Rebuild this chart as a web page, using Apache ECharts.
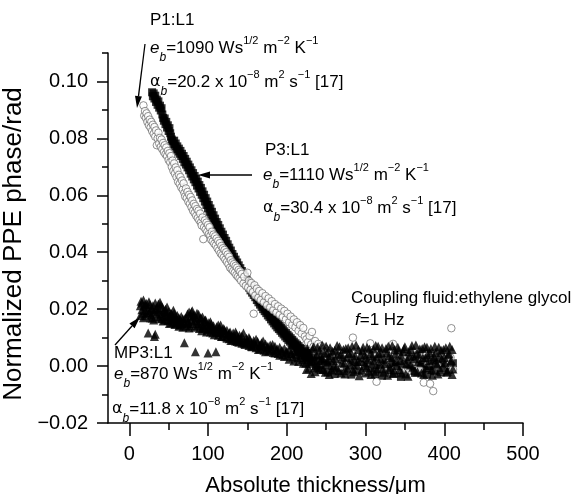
<!DOCTYPE html>
<html>
<head>
<meta charset="utf-8">
<script src="https://cdn.jsdelivr.net/npm/echarts@6/dist/echarts.min.js"></script>
<style>
  html, body { margin: 0; padding: 0; background: #fff; }
  #chart { width: 584px; height: 494px; }
</style>
</head>
<body>
<div id="chart"></div>
<script>
// P3:L1, filled squares
const p3Squares = [
  [29,.0962],[30,.0948],[31,.0958],[32,.0940],[33,.0950],[34,.0928],[35,.0936],[36,.0918],[37,.0930],[38,.0908],[39,.0915],[40,.0898],[41,.0906],
  [42,.0884],[43,.0872],[44,.0862],[45,.0870],[46,.0850],[47,.0858],[48,.0838],[49,.0846],[50,.0826],[51,.0836],[52,.0818],[53,.0806],[54,.0796],
  [55,.0790],[56,.0780],[57,.0792],[58,.0772],[59,.0782],[60,.0762],[61,.0772],[62,.0754],[63,.0764],[64,.0746],[65,.0756],[66,.0738],[67,.0746],
  [68,.0728],[69,.0738],[70,.0716],[71,.0728],[72,.0708],[73,.0718],[74,.0698],[75,.0708],[76,.0688],[77,.0698],[78,.0676],[79,.0688],[80,.0666],
  [81,.0678],[82,.0656],[83,.0668],[84,.0646],[85,.0658],[86,.0634],[87,.0648],[88,.0624],[89,.0636],[90,.0612],[91,.0626],[92,.0602],[93,.0614],
  [94,.0590],[95,.0602],[96,.0578],[97,.0590],[98,.0566],[99,.0578],[100,.0554],[101,.0566],[102,.0542],[103,.0554],[104,.0530],[105,.0542],
  [106,.0518],[107,.0530],[108,.0506],[109,.0518],[110,.0496],[111,.0506],[112,.0484],[113,.0496],[114,.0472],[115,.0484],[116,.0462],[117,.0472],
  [118,.0450],[119,.0462],[120,.0440],[121,.0450],[122,.0428],[123,.0440],[124,.0416],[125,.0428],[126,.0406],[127,.0416],[128,.0394],[129,.0406],
  [130,.0384],[131,.0394],[132,.0372],[133,.0384],[134,.0362],[135,.0374],[136,.0352],[137,.0364],[138,.0342],[139,.0354],[140,.0334],[141,.0344],
  [142,.0322],[143,.0334],[144,.0312],[145,.0324],[146,.0302],[147,.0314],[148,.0292],[149,.0304],[150,.0284],[151,.0294],[152,.0276],[153,.0286],
  [154,.0266],[155,.0278],[156,.0258],[157,.0268],[158,.0250],[159,.0260],[160,.0242],[161,.0252],[162,.0232],[163,.0244],[164,.0224],[165,.0236],
  [166,.0216],[167,.0228],[168,.0208],[169,.0220],[170,.0200],[171,.0212],[172,.0193],[173,.0204],[174,.0186],[175,.0196],[176,.0178],[177,.0190],
  [178,.0172],[179,.0182],[180,.0164],[181,.0176],[182,.0157],[183,.0168],[184,.0150],[185,.0162],[186,.0143],[187,.0155],[188,.0136],[189,.0148],
  [190,.0130],[191,.0141],[192,.0124],[193,.0135],[194,.0117],[195,.0129],[196,.0111],[197,.0122],[198,.0104],[199,.0116],[200,.0098],[201,.0110],
  [202,.0092],[203,.0104],[204,.0086],[205,.0098],[206,.0080],[207,.0092],[208,.0075],[209,.0086],[210,.0070],[211,.0080],[212,.0064],[213,.0075],
  [214,.0058],[215,.0070],[216,.0054],[217,.0064],[218,.0049],[219,.0060],[220,.0045],[222,.0052],[223,.0038],[225,.0046],[226,.0032],[228,.0040],
  [228,.0022],[231,.0008],[234,.0030],[237,-.0006],[240,.0018],[243,-.0014],[246,.0026],[249,.0004],[252,-.0022],[255,.0020],[258,.0000],[261,-.0028],
  [264,.0016],[267,-.0004],[270,.0028],[273,-.0018],[276,.0010],[279,-.0006],[282,-.0030],[285,.0014],[288,.0002],[291,-.0016],[294,.0024],[297,.0006],
  [300,-.0026],[303,.0010],[306,-.0008],[309,.0020],[312,-.0020],[315,.0004],[318,.0016],[321,-.0034],[324,.0002],[327,.0018],[330,-.0014],[333,.0008],
  [336,-.0026],[339,.0014],[342,-.0002],[345,-.0038],[348,.0006],[351,.0022],[354,-.0016],[357,.0002],[360,.0016],[363,-.0024],[366,.0004],[369,.0020],
  [372,-.0012],[375,.0008],[378,-.0030],[381,.0000],[384,.0018],[387,-.0018],[390,.0006],[393,.0024],[396,-.0022],[399,.0002],[402,.0014],[405,-.0014],
  [408,.0000],[411,.0010]
];

// P1:L1, open circles
const p1Circles = [
  [18,.0916],[19,.0880],[20,.0896],[21,.0872],[22,.0888],[23,.0858],[24,.0878],[25,.0846],[26,.0866],[27,.0838],[28,.0858],[29,.0826],[30,.0848],
  [31,.0816],[32,.0840],[33,.0806],[34,.0828],[35,.0776],[36,.0800],[37,.0820],[38,.0782],[39,.0802],[40,.0770],[41,.0796],[42,.0762],[43,.0784],
  [44,.0752],[45,.0776],[46,.0744],[47,.0768],[48,.0738],[49,.0756],[50,.0724],[51,.0748],[52,.0716],[53,.0738],[54,.0700],[55,.0722],[56,.0686],
  [57,.0712],[58,.0676],[59,.0698],[60,.0664],[61,.0688],[62,.0648],[63,.0672],[64,.0640],[65,.0664],[66,.0628],[67,.0652],[68,.0620],[69,.0642],
  [70,.0608],[71,.0596],[72,.0624],[73,.0590],[74,.0612],[75,.0578],[76,.0602],[77,.0570],[78,.0594],[79,.0558],[80,.0582],[81,.0546],[82,.0570],
  [83,.0538],[84,.0562],[85,.0528],[86,.0552],[87,.0520],[88,.0546],[89,.0512],[90,.0536],[91,.0504],[92,.0494],[93,.0522],[94,.0446],[95,.0488],
  [96,.0512],[97,.0480],[98,.0504],[99,.0472],[100,.0496],[101,.0464],[102,.0488],[103,.0458],[104,.0444],[105,.0472],[106,.0438],[107,.0462],
  [108,.0430],[109,.0456],[110,.0424],[111,.0448],[112,.0414],[113,.0440],[114,.0406],[115,.0432],[116,.0396],[117,.0422],[118,.0390],[119,.0414],
  [120,.0382],[121,.0408],[122,.0374],[123,.0400],[124,.0366],[125,.0392],[126,.0358],[127,.0384],[128,.0346],[129,.0372],[130,.0340],[131,.0364],
  [132,.0334],[133,.0358],[134,.0328],[135,.0352],[136,.0320],[137,.0346],[138,.0314],[139,.0338],[140,.0308],[141,.0332],[142,.0300],[143,.0324],
  [145,.0290],[146,.0314],[148,.0282],[150,.0328],[151,.0276],[152,.0300],[154,.0268],[155,.0292],[157,.0260],[158,.0184],[159,.0284],[160,.0248],
  [162,.0272],[164,.0240],[165,.0264],[167,.0232],[169,.0256],[171,.0224],[173,.0246],[175,.0214],[177,.0238],[179,.0206],[181,.0228],[183,.0196],
  [185,.0218],[187,.0188],[189,.0210],[191,.0180],[193,.0202],[195,.0172],[197,.0194],[199,.0164],[201,.0184],[203,.0154],[205,.0174],[207,.0144],
  [209,.0164],[211,.0136],[213,.0154],[215,.0124],[217,.0144],[219,.0114],[221,.0134],[223,.0104],[225,.0094],[227,.0084],[229,.0106],[231,.0076],
  [232,.0120],[234,.0068],[236,.0088],[238,.0058],[240,.0078],[242,.0050],[244,.0070],[246,.0042],[248,.0062],[250,.0036],[252,.0054],[255,.0028],
  [258,.0042],[261,.0012],[264,.0036],[267,-.0004],[270,.0028],[273,.0048],[276,.0006],[279,.0030],[282,-.0012],[284,.0100],[287,.0020],[290,.0044],
  [293,.0002],[296,.0034],[299,-.0016],[302,.0026],[306,.0080],[308,.0010],[311,.0040],[314,-.0055],[317,.0018],[320,.0046],[323,-.0008],[326,.0030],
  [329,.0012],[332,.0050],[335,.0078],[338,-.0014],[341,.0024],[344,.0040],[347,.0004],[350,.0034],[353,-.0020],[356,.0020],[359,.0048],[362,.0008],
  [365,.0032],[368,-.0010],[371,.0026],[374,-.0058],[377,.0042],[380,.0010],[382,-.0062],[384,.0030],[386,-.0088],[388,.0044],[391,.0002],[394,.0036],
  [397,-.0016],[400,.0024],[403,.0050],[406,.0006],[408,.0030],[409,.0133],[411,-.0012]
];

// MP3:L1, filled triangles
const mp3Triangles = [
  [14,.0212],[15,.0228],[16,.0198],[17,.0186],[18,.0232],[19,.0210],[20,.0194],[21,.0176],[22,.0220],[23,.0204],[24,.0116],[25,.0188],[26,.0216],
  [27,.0196],[28,.0180],[29,.0168],[30,.0212],[31,.0192],[32,.0104],[33,.0112],[34,.0202],[35,.0186],[36,.0174],[37,.0218],[38,.0196],[39,.0224],
  [40,.0182],[41,.0166],[42,.0206],[43,.0190],[44,.0176],[45,.0162],[46,.0200],[47,.0186],[48,.0172],
  [49,.0160],[50,.0192],[51,.0176],[52,.0164],[53,.0152],[54,.0182],[55,.0168],[56,.0156],[57,.0186],[58,.0172],[59,.0150],[60,.0166],[61,.0178],
  [62,.0154],[63,.0170],[64,.0144],[65,.0162],[66,.0174],[67,.0148],[68,.0166],[69,.0156],[70,.0082],[71,.0152],[72,.0140],
  [73,.0168],[74,.0184],[75,.0156],[76,.0190],[77,.0142],[78,.0176],[79,.0162],[80,.0194],[81,.0150],[82,.0180],[83,.0136],[84,.0050],[85,.0170],
  [86,.0158],[87,.0142],[88,.0182],[89,.0132],[90,.0166],[91,.0150],[92,.0124],[93,.0172],[94,.0140],[95,.0156],
  [96,.0134],[97,.0162],[98,.0144],[99,.0128],[100,.0046],[101,.0152],[102,.0138],[103,.0120],[104,.0148],[105,.0132],[106,.0116],[107,.0142],
  [108,.0126],[110,.0050],[111,.0138],[112,.0120],[113,.0108],[114,.0134],[115,.0118],[116,.0144],[117,.0104],[118,.0128],[119,.0114],[120,.0132],
  [122,.0118],[123,.0102],[124,.0126],[126,.0110],[127,.0096],[128,.0120],[130,.0106],[131,.0092],[132,.0116],[134,.0100],[135,.0088],[136,.0112],
  [138,.0096],[139,.0084],[140,.0108],[142,.0092],[143,.0080],[145,.0116],[146,.0090],[147,.0076],[149,.0098],[150,.0084],[152,.0072],[153,.0094],
  [155,.0080],[156,.0068],[158,.0090],[160,.0076],
  [161,.0064],[163,.0086],[165,.0072],[166,.0060],[168,.0082],[170,.0068],[171,.0056],[173,.0078],[175,.0064],[177,.0052],[179,.0074],[181,.0060],
  [183,.0048],[185,.0070],[187,.0056],[189,.0044],[191,.0066],[193,.0052],[195,.0040],[197,.0062],[199,.0048],[201,.0036],[203,.0058],[205,.0044],
  [207,.0074],[208,.0032],[210,.0054],[212,.0040],[214,.0028],[216,.0050],[218,.0036],[220,.0022],
  [14,.0178],[16,.0222],[18,.0170],[20,.0216],[22,.0186],[25,.0226],[27,.0170],[29,.0200],[31,.0162],[33,.0222],[35,.0200],[38,.0168],[40,.0214],
  [43,.0158],[45,.0194],[48,.0208],[51,.0150],[53,.0186],[56,.0196],[58,.0146],[61,.0160],[63,.0140],[66,.0152],[68,.0136],[71,.0168],[74,.0150],
  [76,.0134],[79,.0190],[81,.0172],[83,.0158],[86,.0186],[88,.0148],[91,.0170],[93,.0134],[96,.0162],[98,.0120],[101,.0130],[103,.0156],[106,.0134],
  [108,.0110],[111,.0122],[113,.0144],[116,.0118],[118,.0104],[121,.0126],[124,.0098],[127,.0116],[129,.0090],[132,.0104],[135,.0120],[137,.0086],
  [140,.0094],[143,.0106],[146,.0080],[149,.0088],[152,.0100],[155,.0070],[158,.0080],[161,.0094],[164,.0058],[167,.0074],[170,.0088],[173,.0050],
  [176,.0070],[179,.0056],[182,.0076],[185,.0046],[188,.0060],[191,.0038],[194,.0056],[197,.0034],[200,.0052],[203,.0024],[206,.0044],[209,.0018],
  [212,.0050],[215,.0016],[218,.0040],[221,.0010],
  [222,.0046],[224,.0010],[226,.0062],[228,-.0008],[230,.0034],[232,.0018],[234,.0068],[236,-.0020],[238,.0040],[240,.0006],[242,.0056],[244,.0024],
  [246,-.0012],[248,.0044],[250,.0070],[252,.0014],[254,-.0030],[256,.0036],[258,.0052],[260,.0002],[262,.0026],[264,.0072],[266,-.0016],[268,.0040],
  [270,.0012],[272,.0058],[274,-.0028],[276,.0030],[278,.0064],[280,.0004],[282,.0046],[284,-.0010],[286,.0022],[288,.0074],[290,.0016],[292,-.0034],
  [294,.0038],[296,.0054],[298,.0000],[300,.0028],[302,.0066],[304,-.0018],[306,.0044],[308,.0010],[310,.0060],[312,-.0026],[314,.0032],[316,.0070],
  [318,.0006],[320,.0048],[322,-.0008],[324,.0024],[326,.0062],[328,-.0032],[330,.0036],[332,.0014],[334,.0072],[336,-.0014],[338,.0042],[340,.0002],
  [342,.0056],[344,.0020],[346,-.0024],[348,.0050],[350,.0068],[352,.0008],[354,-.0036],[356,.0034],[358,.0058],[360,-.0004],[362,.0026],[364,.0074],
  [366,-.0020],[368,.0040],[370,.0012],[372,.0062],[374,-.0030],[376,.0030],[378,.0066],[380,.0002],[382,.0046],[384,-.0012],[386,.0022],[388,.0070],
  [390,.0010],[392,-.0028],[394,.0038],[396,.0056],[398,-.0006],[400,.0030],[402,.0064],[404,-.0018],[406,.0044],[408,.0014],[410,.0058],[411,-.0010],
  [223,.0030],[225,-.0012],[227,.0052],[229,.0016],[231,-.0026],[233,.0060],[235,.0024],[237,.0002],[239,.0066],[241,-.0008],[243,.0038],[245,.0074],
  [247,.0018],[249,-.0022],[251,.0048],[253,.0030],[255,.0064],[257,-.0014],[259,.0020],[261,.0056],[263,-.0004],[265,.0042],[267,.0068],[269,-.0024],
  [271,.0034],[273,.0010],[275,.0062],[277,-.0008],[279,.0044],[281,.0024],[283,.0070],[285,-.0020],[287,.0036],[289,.0004],[291,.0058],[293,.0016],
  [295,-.0014],[297,.0066],[299,.0040],[301,-.0006],[303,.0022],[305,.0060],[307,-.0030],[309,.0036],[311,.0018],[313,.0072],[315,-.0010],[317,.0044],
  [319,.0026],[321,.0064],[323,-.0022],[325,.0008],[327,.0046],[329,.0070],[331,-.0004],[333,.0030],[335,-.0026],[337,.0058],[339,.0020],[341,.0066],
  [343,-.0012],[345,.0038],[347,.0010],[349,.0062],[351,-.0028],[353,.0024],[355,.0050],[357,.0004],[359,.0072],[361,.0036],[363,-.0016],[365,.0044],
  [367,.0016],[369,.0060],[371,-.0024],[373,.0028],[375,.0068],[377,-.0006],[379,.0040],[381,.0020],[383,.0062],[385,-.0032],[387,.0034],[389,.0048],
  [391,.0006],[393,.0066],[395,-.0014],[397,.0026],[399,.0058],[401,.0012],[403,-.0022],[405,.0040],[407,.0070],[409,.0020],[410,-.0030]
];

const xMajorTicks = [0, 100, 200, 300, 400, 500];
const xMinorTicks = [50, 150, 250, 350, 450];
const yMajorTicks = [-0.02, 0, 0.02, 0.04, 0.06, 0.08, 0.10];
const yMinorTicks = [-0.01, 0.01, 0.03, 0.05, 0.07, 0.09, 0.11];

const FONT = "'Liberation Sans', Arial, sans-serif";

const rich = {
  t: { fontSize: 17, fontFamily: FONT, color: '#000', lineHeight: 24 },
  i: { fontSize: 17, fontFamily: FONT, color: '#000', fontStyle: 'italic', lineHeight: 24 },
  sub: { fontSize: 12, fontFamily: FONT, color: '#000', fontStyle: 'italic', lineHeight: 12, verticalAlign: 'bottom', padding: [0, 0, -4, 0] },
  sup: { fontSize: 11, fontFamily: FONT, color: '#000', lineHeight: 11, verticalAlign: 'top', padding: [-1, 0, 0, 0] },
  g: { fontSize: 16, fontFamily: 'DejaVu Sans', color: '#000', lineHeight: 24 }
};

function label(x, y, text) {
  return {
    type: 'text', x: x, y: y, z: 100,
    style: { text: text, rich: rich, align: 'left', verticalAlign: 'middle', fill: '#000' }
  };
}

function arrow(x1, y1, x2, y2) {
  const dx = x2 - x1, dy = y2 - y1, len = Math.sqrt(dx * dx + dy * dy);
  const ux = dx / len, uy = dy / len, hl = 12, hw = 3.5;
  const bx = x2 - ux * hl, by = y2 - uy * hl;
  return [
    { type: 'line', z: 100, shape: { x1: x1, y1: y1, x2: bx, y2: by }, style: { stroke: '#000', lineWidth: 1.3 } },
    { type: 'polygon', z: 100, shape: { points: [[x2, y2], [bx - uy * hw, by + ux * hw], [bx + uy * hw, by - ux * hw]] }, style: { fill: '#000' } }
  ];
}

const chart = echarts.init(document.getElementById('chart'));
chart.setOption({
  animation: false,
  backgroundColor: '#fff',
  textStyle: { fontFamily: FONT, color: '#000' },
  grid: { left: 108, right: 61, top: 53, bottom: 71, outerBoundsMode: 'none' },
  xAxis: [
    {
      type: 'value', min: -27, max: 500, position: 'bottom',
      name: 'Absolute thickness/\u03bcm', nameLocation: 'middle', nameGap: 52,
      nameTextStyle: { fontSize: 22, color: '#000', fontFamily: FONT },
      axisLine: { show: true, onZero: false, lineStyle: { color: '#000', width: 1.5 } },
      axisTick: { show: true, customValues: xMajorTicks, length: 13, lineStyle: { color: '#000', width: 1.5 } },
      axisLabel: { customValues: xMajorTicks, fontSize: 20, color: '#000', margin: 21, fontFamily: FONT },
      splitLine: { show: false }
    },
    {
      type: 'value', min: -27, max: 500, position: 'bottom',
      axisLine: { show: false, onZero: false },
      axisTick: { show: true, customValues: xMinorTicks, length: 7, lineStyle: { color: '#000', width: 1.5 } },
      axisLabel: { show: false },
      splitLine: { show: false }
    }
  ],
  yAxis: [
    {
      type: 'value', min: -0.02, max: 0.11, position: 'left',
      name: 'Normalized PPE phase/rad', nameLocation: 'middle', nameGap: 72, nameRotate: 90,
      nameTextStyle: { fontSize: 26, color: '#000', fontFamily: FONT, padding: [0, 12, 0, 0] },
      axisLine: { show: true, onZero: false, lineStyle: { color: '#000', width: 1.5 } },
      axisTick: { show: true, customValues: yMajorTicks, length: 11, lineStyle: { color: '#000', width: 1.5 } },
      axisLabel: {
        customValues: yMajorTicks, fontSize: 20, color: '#000', margin: 20, fontFamily: FONT,
        formatter: function (v) { return (v < 0 ? '\u2212' : '') + Math.abs(v).toFixed(2); }
      },
      splitLine: { show: false }
    },
    {
      type: 'value', min: -0.02, max: 0.11, position: 'left',
      axisLine: { show: false, onZero: false },
      axisTick: { show: true, customValues: yMinorTicks, length: 6, lineStyle: { color: '#000', width: 1.5 } },
      axisLabel: { show: false },
      splitLine: { show: false }
    }
  ],
  series: [
    {
      name: 'P3:L1', type: 'scatter', data: p3Squares, symbol: 'rect', symbolSize: 8,
      itemStyle: { color: '#000' }
    },
    {
      name: 'P1:L1', type: 'scatter', data: p1Circles, symbol: 'circle', symbolSize: 7.5,
      itemStyle: { color: '#fff', borderColor: '#666', borderWidth: 0.9 }
    },
    {
      name: 'MP3:L1', type: 'scatter', data: mp3Triangles, symbol: 'triangle', symbolSize: 9,
      itemStyle: { color: '#000' }
    }
  ],
  graphic: [
    label(150, 20, '{t|P1:L1}'),
    label(150, 48, '{i|e}{sub|b}{t|=1090 Ws}{sup|1/2}{t| m}{sup|\u22122}{t| K}{sup|\u22121}'),
    label(150, 82, '{g|\u03b1}{sub|b}{t|=20.2 x 10}{sup|\u22128}{t| m}{sup|2}{t| s}{sup|\u22121}{t| [17]}'),
    label(265, 150, '{t|P3:L1}'),
    label(263, 175, '{i|e}{sub|b}{t|=1110 Ws}{sup|1/2}{t| m}{sup|\u22122}{t| K}{sup|\u22121}'),
    label(263, 208, '{g|\u03b1}{sub|b}{t|=30.4 x 10}{sup|\u22128}{t| m}{sup|2}{t| s}{sup|\u22121}{t| [17]}'),
    label(351, 298, '{t|Coupling fluid:ethylene glycol}'),
    label(355, 320, '{i|f}{t|=1 Hz}'),
    label(114, 353, '{t|MP3:L1}'),
    label(114, 374, '{i|e}{sub|b}{t|=870 Ws}{sup|1/2}{t| m}{sup|\u22122}{t| K}{sup|\u22121}'),
    label(112, 409, '{g|\u03b1}{sub|b}{t|=11.8 x 10}{sup|\u22128}{t| m}{sup|2}{t| s}{sup|\u22121}{t| [17]}')
  ].concat(arrow(145, 44, 137, 108), arrow(252, 175, 198, 175), arrow(115, 345, 140, 317))
});
</script>
</body>
</html>
